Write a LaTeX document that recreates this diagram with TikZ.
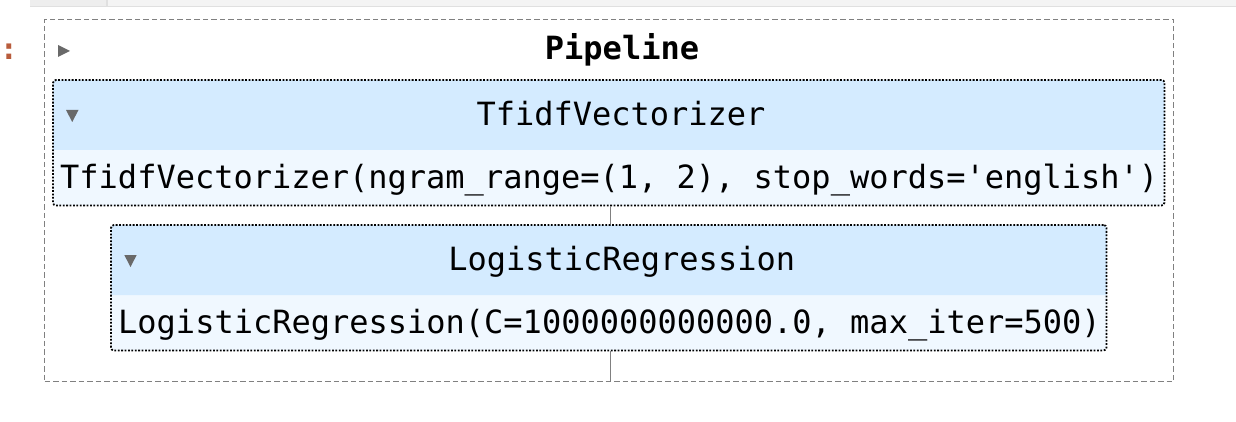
\documentclass[tikz,border=0pt]{standalone}
\usepackage{fontspec}
\setmonofont{DejaVu Sans Mono}
\definecolor{hdrblue}{HTML}{D4EBFF}
\definecolor{bodyblue}{HTML}{F0F8FF}
\definecolor{lineg}{HTML}{808080}
\definecolor{trig}{HTML}{696969}
\definecolor{prompt}{HTML}{B85C3C}
\definecolor{barbg}{HTML}{F4F4F4}
\definecolor{cellbg}{HTML}{EEEEEE}
\definecolor{barline}{HTML}{E0E0E0}
\tikzset{
  txt/.style={inner sep=0pt, anchor=base, font=\ttfamily\fontsize{32}{38}\selectfont},
  bodytxt/.style={txt, anchor=base west},
  estbox/.style={draw=black, line width=1.8pt, dash pattern=on 1.8pt off 1.6pt, rounded corners=3pt, inner sep=0pt},
  outerbox/.style={draw=lineg, line width=1.6pt, dash pattern=on 5.5pt off 3pt, inner sep=0pt},
  conn/.style={draw=lineg, line width=1.5pt},
  tri/.style={fill=trig}
}
\begin{document}
\begin{tikzpicture}[x=1pt,y=-1pt]
\useasboundingbox (0,0) rectangle (1236,422);
% top bar
\fill[barbg] (30,0) rectangle (1236,6);
\fill[cellbg] (30,0) rectangle (106,6);
\fill[barline] (30,6) rectangle (1236,7.5);
\fill[barline] (106,0) rectangle (108,6);
% prompt colon
\node[inner sep=0pt, anchor=base, text=prompt, font=\ttfamily\bfseries\fontsize{30}{36}\selectfont] (prompt) at (9,60) {:};
% outer pipeline box
\node[outerbox, minimum width=1129pt, minimum height=362pt] (pipe) at (609,200.5) {};
\fill[tri] (58,45) -- (70,51) -- (58,57) -- cycle;
\node[txt, font=\ttfamily\bfseries\fontsize{32}{38}\selectfont] (pipetitle) at (622,59.3) {Pipeline};
% TfidfVectorizer box
\fill[bodyblue, rounded corners=3pt] (53,80) rectangle (1164.5,205.5);
\fill[hdrblue] (53,150) {[rounded corners=3pt] -- (53,80) -- (1164.5,80)} -- (1164.5,150) -- cycle;
\node[estbox, minimum width=1111.5pt, minimum height=125.5pt] (tfbox) at (608.75,142.75) {};
\fill[tri] (66,110) -- (78.5,110) -- (72.25,122) -- cycle;
\node[txt] (tfhead) at (621,125.5) {TfidfVectorizer};
\node[bodytxt] (tfbody) at (60,188.5) {TfidfVectorizer(ngram\_range=(1, 2), stop\_words='english')};
% LogisticRegression box
\fill[bodyblue, rounded corners=3pt] (111,225) rectangle (1106.5,350.5);
\fill[hdrblue] (111,295) {[rounded corners=3pt] -- (111,225) -- (1106.5,225)} -- (1106.5,295) -- cycle;
\node[estbox, minimum width=995.5pt, minimum height=125.5pt] (lrbox) at (608.75,287.75) {};
\fill[tri] (124.3,255) -- (136.7,255) -- (130.5,267) -- cycle;
\node[txt] (lrhead) at (621.7,270.5) {LogisticRegression};
\node[bodytxt] (lrbody) at (118,333) {LogisticRegression(C=1000000000000.0, max\_iter=500)};
% connectors
\draw[conn] ([xshift=1.5pt]tfbox.south -| pipe.center) -- ([xshift=1.5pt]lrbox.north -| pipe.center);
\draw[conn] ([xshift=1.5pt]lrbox.south -| pipe.center) -- ([xshift=1.5pt]pipe.south);
\end{tikzpicture}
\end{document}
